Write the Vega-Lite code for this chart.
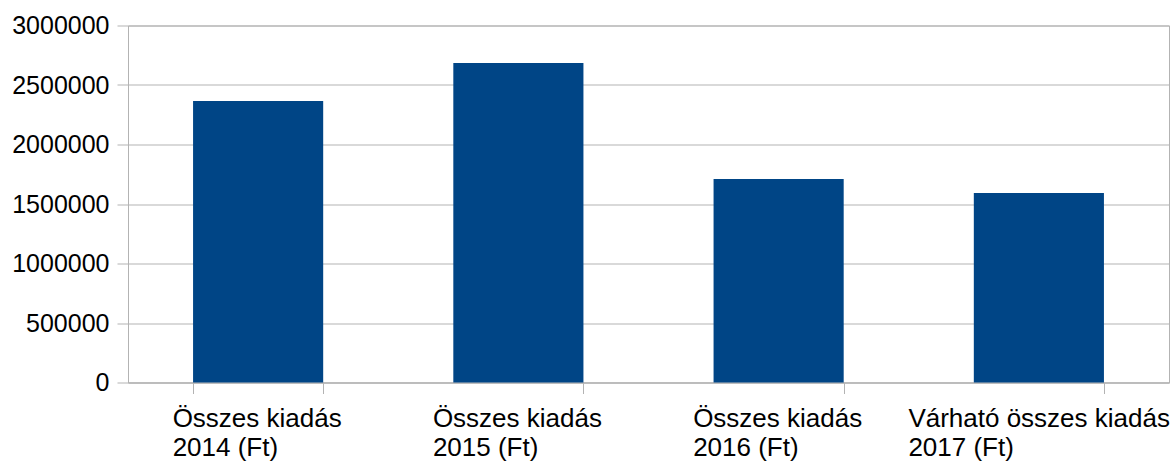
{
  "$schema": "https://vega.github.io/schema/vega-lite/v6.json",
  "autosize": "none",
  "width": 1041,
  "height": 357,
  "padding": {"left": 128, "top": 25.5, "right": 7, "bottom": 78.5},
  "background": "white",
  "data": {
    "values": [
      {"kategoria": "Összes kiadás 2014 (Ft)", "osszeg": 2365000},
      {"kategoria": "Összes kiadás 2015 (Ft)", "osszeg": 2685000},
      {"kategoria": "Összes kiadás 2016 (Ft)", "osszeg": 1710000},
      {"kategoria": "Várható összes kiadás 2017 (Ft)", "osszeg": 1592000}
    ]
  },
  "config": {
    "view": {"stroke": "#b3b3b3", "strokeWidth": 1},
    "font": "Liberation Sans",
    "axis": {
      "labelFont": "Liberation Sans",
      "labelFontSize": 25,
      "labelColor": "#000000",
      "domainColor": "#b3b3b3",
      "tickColor": "#b3b3b3",
      "gridColor": "#b3b3b3",
      "tickSize": 11,
      "title": null
    }
  },
  "mark": {"type": "bar", "color": "#004586"},
  "encoding": {
    "x": {
      "field": "kategoria",
      "type": "nominal",
      "sort": null,
      "scale": {"paddingInner": 0.5, "paddingOuter": 0.25},
      "axis": {
        "labelAngle": 0,
        "tickBand": "extent",
        "labelAlign": "left",
        "labelBaseline": "top",
        "labelFontSize": 26,
        "labelPadding": 12,
        "labelLineHeight": 29,
        "labelLimit": 0,
        "labelOffset": {
          "condition": {"test": "datum.value === 'Várható összes kiadás 2017 (Ft)'", "value": -131},
          "value": -86
        },
        "labelExpr": "split(replace(datum.label, regexp(' (?=\\\\d{4})'), '|'), '|')",
        "grid": false
      }
    },
    "y": {
      "field": "osszeg",
      "type": "quantitative",
      "scale": {"domain": [0, 3000000], "nice": false},
      "axis": {
        "values": [0, 500000, 1000000, 1500000, 2000000, 2500000, 3000000],
        "format": "d",
        "labelPadding": 8,
        "grid": true
      }
    }
  }
}
